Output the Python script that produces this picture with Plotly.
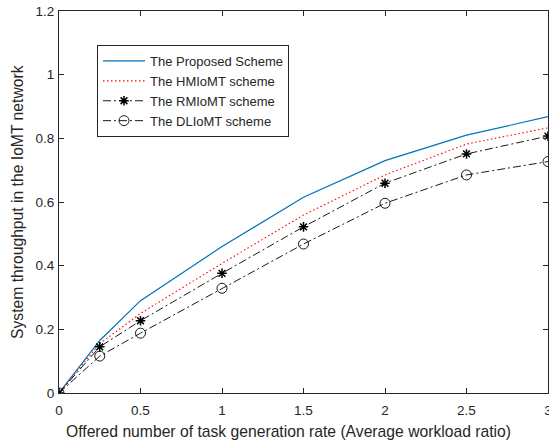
import plotly.graph_objects as go

x = [0, 0.25, 0.5, 1.0, 1.5, 2.0, 2.5, 3.0]
proposed = [0, 0.165, 0.29, 0.46, 0.615, 0.73, 0.81, 0.868]
hmiomt = [0, 0.155, 0.25, 0.407, 0.559, 0.685, 0.782, 0.833]
rmiomt = [0, 0.145, 0.227, 0.376, 0.522, 0.659, 0.751, 0.807]
dliomt = [0, 0.116, 0.188, 0.329, 0.468, 0.596, 0.685, 0.727]
names = ["The Proposed Scheme", "The HMIoMT scheme", "The RMIoMT scheme", "The DLIoMT scheme"]
x_ticks = [0, 0.5, 1, 1.5, 2, 2.5, 3]
x_ticktext = ["0", "0.5", "1", "1.5", "2", "2.5", "3"]
y_ticks = [0, 0.2, 0.4, 0.6, 0.8, 1.0, 1.2]
y_ticktext = ["0", "0.2", "0.4", "0.6", "0.8", "1", "1.2"]
x_title = "Offered number of task generation rate (Average workload ratio)"
y_title = "System throughput in the IoMT network"

fig = go.Figure()
fig.add_trace(go.Scatter(x=x, y=proposed, name=names[0], mode="lines",
                         line=dict(color="#0072BD", width=1.2)))
fig.add_trace(go.Scatter(x=x, y=hmiomt, name=names[1], mode="lines",
                         line=dict(color="#FF0000", width=1.1, dash="1.5px,2.5px")))
fig.add_trace(go.Scatter(x=x, y=rmiomt, name=names[2], mode="lines+markers",
                         line=dict(color="black", width=0.9, dash="8px,3px,2px,3px"),
                         marker=dict(symbol="asterisk-open", size=8, color="black",
                                     line=dict(color="black", width=1.5))))
fig.add_trace(go.Scatter(x=x, y=dliomt, name=names[3], mode="lines+markers",
                         line=dict(color="black", width=0.9, dash="8px,3px,2px,3px"),
                         marker=dict(symbol="circle-open", size=10, color="black",
                                     line=dict(color="black", width=0.9))))

axis_common = dict(showgrid=False, zeroline=False, showline=True, linecolor="#262626",
                   linewidth=1, mirror="ticks", ticks="inside", ticklen=5,
                   tickcolor="#262626", tickfont=dict(size=13.5, color="#262626"),
                   automargin=False, ticklabeloverflow="allow")
fig.update_xaxes(range=[0, 3], tickvals=x_ticks, ticktext=x_ticktext,
                 ticklabelstandoff=5, **axis_common)
fig.update_yaxes(range=[0, 1.2], tickvals=y_ticks, ticktext=y_ticktext,
                 ticklabelstandoff=1, **axis_common)

fig.add_annotation(text=x_title, xref="paper", yref="paper", x=0.470, y=-0.0995,
                   xanchor="center", yanchor="middle", showarrow=False,
                   font=dict(size=15.7, color="#262626"))
fig.add_annotation(text=y_title, xref="paper", yref="paper", x=-0.0859, y=0.50,
                   xanchor="center", yanchor="middle", showarrow=False, textangle=-90,
                   font=dict(size=15.7, color="#262626"))

fig.update_layout(width=549, height=443, plot_bgcolor="white", paper_bgcolor="white",
                  margin=dict(l=59, r=1, t=11, b=50),
                  font=dict(family="Liberation Sans, Arial, sans-serif", color="#262626"),
                  legend=dict(x=0.0777, y=0.911, xanchor="left", yanchor="top",
                              bgcolor="white", bordercolor="#262626", borderwidth=1,
                              font=dict(size=13), tracegroupgap=0, itemwidth=42))
fig.write_html("out.html", post_script="document.body.style.margin='0';",
               config={"displayModeBar": False})
